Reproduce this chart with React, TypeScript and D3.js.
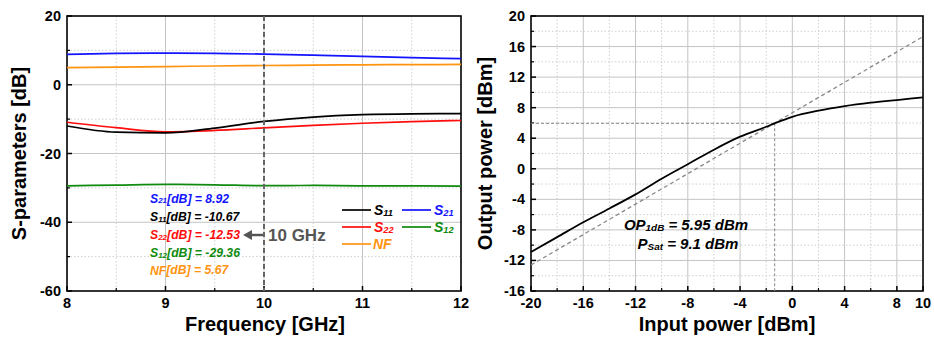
import React from 'react';
import * as d3 from 'd3';

// left chart: S-parameters vs frequency
const freq = [8, 8.5, 9, 9.5, 10, 10.5, 11, 11.5, 12];
const s11 = [-12, -13.8, -14.0, -12.6, -10.67, -9.4, -8.7, -8.45, -8.4];
const s22 = [-10.9, -12.5, -13.7, -13.3, -12.53, -11.8, -11.2, -10.7, -10.4];
const s21 = [8.85, 9.1, 9.2, 9.1, 8.92, 8.6, 8.25, 7.9, 7.6];
const s12 = [-29.4, -29.2, -29.0, -29.1, -29.36, -29.3, -29.4, -29.4, -29.5];
const nf = [5.0, 5.15, 5.3, 5.45, 5.6, 5.7, 5.8, 5.85, 5.9];
const freqTicks = [8, 9, 10, 11, 12];
const spTicks = [-60, -40, -20, 0, 20];

// right chart: output power vs input power
const pin = [-20, -18, -16, -14, -12, -10, -8, -6, -4, -2, -1.35, 0, 2, 4, 6, 8, 10];
const pout = [-10.9, -8.95, -7.0, -5.2, -3.35, -1.3, 0.6, 2.5, 4.2, 5.5, 5.95, 6.8, 7.6, 8.2, 8.65, 9.0, 9.35];
const idealIn = [-20, 10];
const idealOut = [-12.6, 17.3];
const op1dbIn = -1.35;
const op1dbOut = 5.95;
const pinTicks = [-20, -16, -12, -8, -4, 0, 4, 8, 10];
const poutTicks = [-16, -12, -8, -4, 0, 4, 8, 12, 16, 20];

const FONT = "'Liberation Sans', Arial, sans-serif";
const C = { s11: '#000000', s21: '#1414ff', s22: '#ff0d0d', s12: '#0f8a0f', nf: '#ff9411' };

const top = 16, bottom = 291;

function Frame({ x, y, minorX, minorY, gridX, gridY, minorGridX, minorGridY, xTicks, yTicks }: any) {
  const [x0, x1] = x.range();
  const [y0, y1] = y.range();
  return (
    <g>
      {minorGridX.map((v: number) => <line key={'mgx' + v} x1={x(v)} x2={x(v)} y1={y1} y2={y0} stroke="#cfcfcf" strokeDasharray="1.5,2" />)}
      {minorGridY.map((v: number) => <line key={'mgy' + v} x1={x0} x2={x1} y1={y(v)} y2={y(v)} stroke="#cfcfcf" strokeDasharray="1.5,2" />)}
      {gridX.map((v: number) => <line key={'gx' + v} x1={x(v)} x2={x(v)} y1={y1} y2={y0} stroke="#c4c4c4" />)}
      {gridY.map((v: number) => <line key={'gy' + v} x1={x0} x2={x1} y1={y(v)} y2={y(v)} stroke="#c4c4c4" />)}
      {xTicks.map((v: number) => <line key={'tx' + v} x1={x(v)} x2={x(v)} y1={y0} y2={y0 - 5} stroke="#000" strokeWidth={1.5} />)}
      {minorX.map((v: number) => <line key={'mx' + v} x1={x(v)} x2={x(v)} y1={y0} y2={y0 - 3} stroke="#000" strokeWidth={1.2} />)}
      {yTicks.map((v: number) => <line key={'ty' + v} x1={x0} x2={x0 + 5} y1={y(v)} y2={y(v)} stroke="#000" strokeWidth={1.5} />)}
      {minorY.map((v: number) => <line key={'my' + v} x1={x0} x2={x0 + 3} y1={y(v)} y2={y(v)} stroke="#000" strokeWidth={1.2} />)}
      <rect x={x0} y={y1} width={x1 - x0} height={y0 - y1} fill="none" stroke="#000" strokeWidth={1.6} />
      {xTicks.map((v: number) => (
        <text key={'lx' + v} x={x(v)} y={y0 + 17} textAnchor="middle" fontSize={14.5} fontWeight="bold">{v}</text>
      ))}
      {yTicks.map((v: number) => (
        <text key={'ly' + v} x={x0 - 6} y={y(v) + 5} textAnchor="end" fontSize={14.5} fontWeight="bold">{v}</text>
      ))}
    </g>
  );
}

// text with a small subscript, e.g. S21
function Sub({ x, y, fill, base, sub, rest, size = 12, anchor = 'start' }: any) {
  return (
    <text x={x} y={y} fill={fill} fontSize={size} fontWeight="bold" fontStyle="italic" textAnchor={anchor}>
      {base}
      <tspan fontSize={size * 0.66} dy={size * 0.08}>{sub}</tspan>
      <tspan dy={-size * 0.08}>{rest}</tspan>
    </text>
  );
}

export default function App() {
  const xL = d3.scaleLinear().domain([8, 12]).range([67, 461]);
  const yL = d3.scaleLinear().domain([-60, 20]).range([bottom, top]);
  const lineL = (vals: number[]) =>
    d3.line<number>().x((_, i) => xL(freq[i])).y((d) => yL(d)).curve(d3.curveMonotoneX)(vals) as string;

  const xR = d3.scaleLinear().domain([-20, 10]).range([531, 923]);
  const yR = d3.scaleLinear().domain([-16, 20]).range([bottom, top]);
  const lineR = d3.line<number>().x((_, i) => xR(pin[i])).y((d) => yR(d)).curve(d3.curveMonotoneX);

  const series = [
    { v: s21, c: C.s21 },
    { v: nf, c: C.nf },
    { v: s12, c: C.s12 },
    { v: s22, c: C.s22 },
    { v: s11, c: C.s11 },
  ];

  const notes = [
    { base: 'S', sub: '21', rest: '[dB] = ' + s21[4].toFixed(2), c: C.s21 },
    { base: 'S', sub: '11', rest: '[dB] = ' + s11[4].toFixed(2), c: C.s11 },
    { base: 'S', sub: '22', rest: '[dB] = ' + s22[4].toFixed(2), c: C.s22 },
    { base: 'S', sub: '12', rest: '[dB] = ' + s12[4].toFixed(2), c: C.s12 },
    { base: 'NF', sub: '', rest: '[dB] = 5.67', c: C.nf },
  ];

  const legend = [
    { label: '11', c: C.s11, col: 0, row: 0 },
    { label: '21', c: C.s21, col: 1, row: 0 },
    { label: '22', c: C.s22, col: 0, row: 1 },
    { label: '12', c: C.s12, col: 1, row: 1 },
    { label: 'NF', c: C.nf, col: 0, row: 2 },
  ];

  return (
    <svg width={934} height={339} style={{ position: 'absolute', left: 0, top: 0, background: '#fff' }} fontFamily={FONT}>
      {/* left chart */}
      <Frame
        x={xL} y={yL}
        xTicks={freqTicks} yTicks={spTicks}
        minorX={[8.5, 9.5, 10.5, 11.5]} minorY={[-50, -30, -10, 10]}
        gridX={[9, 10, 11]} gridY={[-40, -20, 0]}
        minorGridX={[8.5, 9.5, 10.5, 11.5]} minorGridY={[-50, -30, -10, 10]}
      />
      {series.map((s, i) => (
        <path key={i} d={lineL(s.v)} fill="none" stroke={s.c} strokeWidth={1.7} />
      ))}
      <line x1={xL(10)} x2={xL(10)} y1={top} y2={bottom} stroke="#666" strokeWidth={2} strokeDasharray="5,3" />
      {notes.map((n, i) => (
        <Sub key={i} x={150} y={202.5 + i * 18.2} fill={n.c} base={n.base} sub={n.sub} rest={n.rest} size={12.2} />
      ))}
      <line x1={xL(10) - 1} x2={250} y1={235} y2={235} stroke="#555" strokeWidth={2.5} />
      <path d="M243,235 L252,230 L252,240 Z" fill="#555" />
      <text x={268} y={241} fontSize={17} fontWeight="bold" fill="#555">10 GHz</text>
      {legend.map((l, i) => {
        const lx = 342 + l.col * 60;
        const ly = 210 + l.row * 17;
        return (
          <g key={i}>
            <line x1={lx} x2={lx + 29} y1={ly} y2={ly} stroke={l.c} strokeWidth={1.7} />
            {l.label === 'NF' ? (
              <text x={lx + 31} y={ly + 5} fontSize={14} fontWeight="bold" fontStyle="italic" fill={l.c}>NF</text>
            ) : (
              <Sub x={lx + 32} y={ly + 5} fill={l.c} base="S" sub={l.label} rest="" size={14} />
            )}
          </g>
        );
      })}
      <text x={265} y={331} textAnchor="middle" fontSize={20} fontWeight="bold">Frequency [GHz]</text>
      <text transform={`translate(26,${(top + bottom) / 2}) rotate(-90)`} textAnchor="middle" fontSize={20} fontWeight="bold">S-parameters [dB]</text>

      {/* right chart */}
      <Frame
        x={xR} y={yR}
        xTicks={pinTicks} yTicks={poutTicks}
        minorX={[-18, -14, -10, -6, -2, 2, 6]} minorY={[-14, -10, -6, -2, 2, 6, 10, 14, 18]}
        gridX={[-16, -12, -8, -4, 0, 4, 8]} gridY={[-12, -8, -4, 0, 4, 8, 12, 16]}
        minorGridX={[-18, -14, -10, -6, -2, 2, 6]} minorGridY={[-14, -10, -6, -2, 2, 6, 10, 14, 18]}
      />
      <line x1={xR(idealIn[0])} x2={xR(idealIn[1])} y1={yR(idealOut[0])} y2={yR(idealOut[1])} stroke="#888" strokeWidth={1.3} strokeDasharray="4,3" />
      <line x1={xR(-20)} x2={xR(op1dbIn)} y1={yR(op1dbOut)} y2={yR(op1dbOut)} stroke="#888" strokeWidth={1} strokeDasharray="3,2" />
      <line x1={xR(op1dbIn)} x2={xR(op1dbIn)} y1={yR(op1dbOut)} y2={bottom} stroke="#888" strokeWidth={1} strokeDasharray="3,2" />
      <path d={lineR(pout) as string} fill="none" stroke="#000" strokeWidth={1.8} />
      <Sub x={686} y={230} anchor="middle" fill="#000" base="OP" sub="1dB" rest=" = 5.95 dBm" size={15} />
      <Sub x={688} y={249} anchor="middle" fill="#000" base="P" sub="Sat" rest=" = 9.1 dBm" size={15} />
      <text x={727} y={331} textAnchor="middle" fontSize={20} fontWeight="bold">Input power [dBm]</text>
      <text transform={`translate(492,${(top + bottom) / 2}) rotate(-90)`} textAnchor="middle" fontSize={20} fontWeight="bold">Output power [dBm]</text>
    </svg>
  );
}
